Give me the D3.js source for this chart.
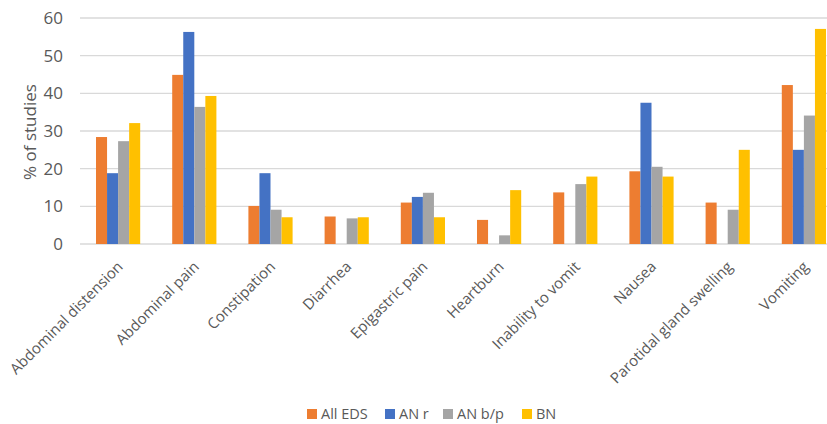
<!DOCTYPE html>
<html>
<head>
<meta charset="utf-8">
<script src="https://cdn.jsdelivr.net/npm/d3@7"></script>
<style>
  body { margin: 0; background: #fff; }
  text { font-family: "Open Sans", "Liberation Sans", sans-serif; fill: #595959; }
</style>
</head>
<body>
<div id="chart"></div>
<script>
// symptom categories
const categories = ["Abdominal distension", "Abdominal pain", "Constipation", "Diarrhea",
  "Epigastric pain", "Heartburn", "Inability to vomit", "Nausea",
  "Parotidal gland swelling", "Vomiting"];
const seriesNames = ["All EDS", "AN r", "AN b/p", "BN"];
const colors = ["#ED7D31", "#4472C4", "#A5A5A5", "#FFC000"];

// % of studies per series (null = no bar)
const allEds = [28.4, 44.9, 10.1, 7.3, 11.0, 6.4, 13.7, 19.3, 11.0, 42.2];
const anR = [18.8, 56.3, 18.8, null, 12.5, null, null, 37.5, null, 25.0];
const anBp = [27.3, 36.4, 9.1, 6.8, 13.6, 2.3, 15.9, 20.5, 9.1, 34.1];
const bn = [32.1, 39.3, 7.1, 7.1, 7.1, 14.3, 17.9, 17.9, 25.0, 57.1];
const yTicks = [0, 10, 20, 30, 40, 50, 60];

const series = [allEds, anR, anBp, bn];

const w = 827, h = 424;
const svg = d3.select("#chart").append("svg").attr("width", w).attr("height", h);

const x0 = d3.scaleBand().domain(categories).range([80, 842]).paddingInner(0.42).paddingOuter(0.21);
const x1 = d3.scaleBand().domain(d3.range(4)).range([0, x0.bandwidth()]);
const y = d3.scaleLinear().domain([0, 60]).range([244, 18]);

// gridlines
svg.append("g")
  .selectAll("line")
  .data(yTicks)
  .join("line")
  .attr("x1", 80).attr("x2", w)
  .attr("y1", d => y(d)).attr("y2", d => y(d))
  .attr("stroke", "#d9d9d9").attr("stroke-width", 1.3);

// y tick labels
svg.append("g")
  .selectAll("text")
  .data(yTicks)
  .join("text")
  .attr("x", 63).attr("y", d => y(d))
  .attr("dy", "0.35em")
  .attr("text-anchor", "end")
  .style("font-size", "17px")
  .text(d => d);

// y axis title
svg.append("text")
  .attr("transform", "translate(30,132) rotate(-90)")
  .attr("text-anchor", "middle")
  .attr("dy", "0.35em")
  .style("font-size", "17px")
  .text("% of studies");

// bars
const groups = svg.append("g")
  .selectAll("g")
  .data(categories)
  .join("g")
  .attr("transform", d => `translate(${x0(d)},0)`);

groups.selectAll("rect")
  .data((c, i) => series.map((s, k) => ({ k, v: s[i] })).filter(d => d.v != null))
  .join("rect")
  .attr("x", d => x1(d.k))
  .attr("width", x1.bandwidth())
  .attr("y", d => y(d.v))
  .attr("height", d => y(0) - y(d.v))
  .attr("fill", d => colors[d.k]);

// category labels, rotated
svg.append("g")
  .selectAll("text")
  .data(categories)
  .join("text")
  .attr("transform", d => `translate(${x0(d) + x0.bandwidth() / 2 + 2},${264}) rotate(-45)`)
  .attr("text-anchor", "end")
  .attr("dy", "0.35em")
  .style("font-size", "15px")
  .text(d => d);

// legend
const legendX = [307, 385, 443, 522];
const legend = svg.append("g")
  .selectAll("g")
  .data(seriesNames)
  .join("g")
  .attr("transform", (d, i) => `translate(${legendX[i]},409)`);
legend.append("rect").attr("width", 10).attr("height", 10).attr("fill", (d, i) => colors[i]);
legend.append("text")
  .attr("x", 14).attr("y", 5).attr("dy", "0.35em")
  .style("font-size", "14.5px")
  .text(d => d);
</script>
</body>
</html>
